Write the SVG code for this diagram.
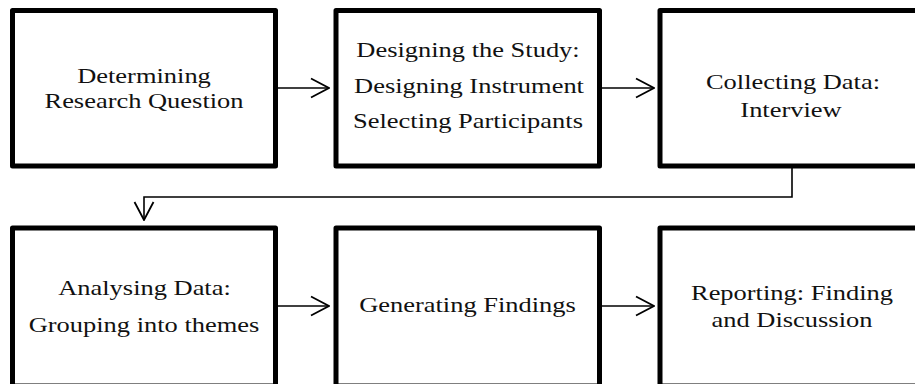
<svg xmlns="http://www.w3.org/2000/svg" width="915" height="384" viewBox="0 0 915 384">
<defs>
<style>
.box{fill:#fff;stroke:#000;stroke-width:5;stroke-linejoin:round}
.lbl{font-family:"Liberation Serif","Times New Roman",serif;font-size:21px;fill:#111;text-anchor:middle}
.con{fill:none;stroke:#000;stroke-width:1.6}
</style>
<marker id="arr" viewBox="0 0 20 22" refX="19" refY="11" markerWidth="20" markerHeight="22" markerUnits="userSpaceOnUse" orient="auto">
<path d="M1,1.5 L19,11 L1,20.5" fill="none" stroke="#000" stroke-width="1.8"/>
</marker>
</defs>
<rect width="915" height="384" fill="#fff"/>
<g id="connectors">
<line class="con" x1="278" y1="88" x2="329" y2="88" marker-end="url(#arr)"/>
<line class="con" x1="602" y1="88" x2="654" y2="88" marker-end="url(#arr)"/>
<polyline class="con" points="792,168 792,197 144,197 144,220" marker-end="url(#arr)"/>
<line class="con" x1="278" y1="306" x2="329" y2="306" marker-end="url(#arr)"/>
<line class="con" x1="602" y1="306" x2="654" y2="306" marker-end="url(#arr)"/>
</g>
<g id="node1">
<rect class="box" x="12.5" y="10.5" width="263" height="155.5"/>
<text class="lbl" transform="translate(144 83) scale(1.26 1)">Determining</text>
<text class="lbl" transform="translate(144 108) scale(1.26 1)">Research Question</text>
</g>
<g id="node2">
<rect class="box" x="336" y="10.5" width="263.5" height="155.5"/>
<text class="lbl" transform="translate(468 57) scale(1.26 1)">Designing the Study:</text>
<text class="lbl" transform="translate(469 93) scale(1.26 1)">Designing Instrument</text>
<text class="lbl" transform="translate(468 128) scale(1.26 1)">Selecting Participants</text>
</g>
<g id="node3">
<rect class="box" x="660" y="10.5" width="264" height="155.5"/>
<text class="lbl" transform="translate(793 89) scale(1.26 1)">Collecting Data:</text>
<text class="lbl" transform="translate(791 117) scale(1.26 1)">Interview</text>
</g>
<g id="node4">
<rect class="box" x="12.5" y="228" width="263" height="158"/>
<text class="lbl" transform="translate(144.5 295) scale(1.26 1)">Analysing Data:</text>
<text class="lbl" transform="translate(144 332) scale(1.26 1)">Grouping into themes</text>
</g>
<g id="node5">
<rect class="box" x="336" y="228" width="263.5" height="158"/>
<text class="lbl" transform="translate(467.5 312) scale(1.26 1)">Generating Findings</text>
</g>
<g id="node6">
<rect class="box" x="660" y="228" width="264" height="158"/>
<text class="lbl" transform="translate(792 300) scale(1.26 1)">Reporting: Finding</text>
<text class="lbl" transform="translate(792 327) scale(1.26 1)">and Discussion</text>
</g>
</svg>
